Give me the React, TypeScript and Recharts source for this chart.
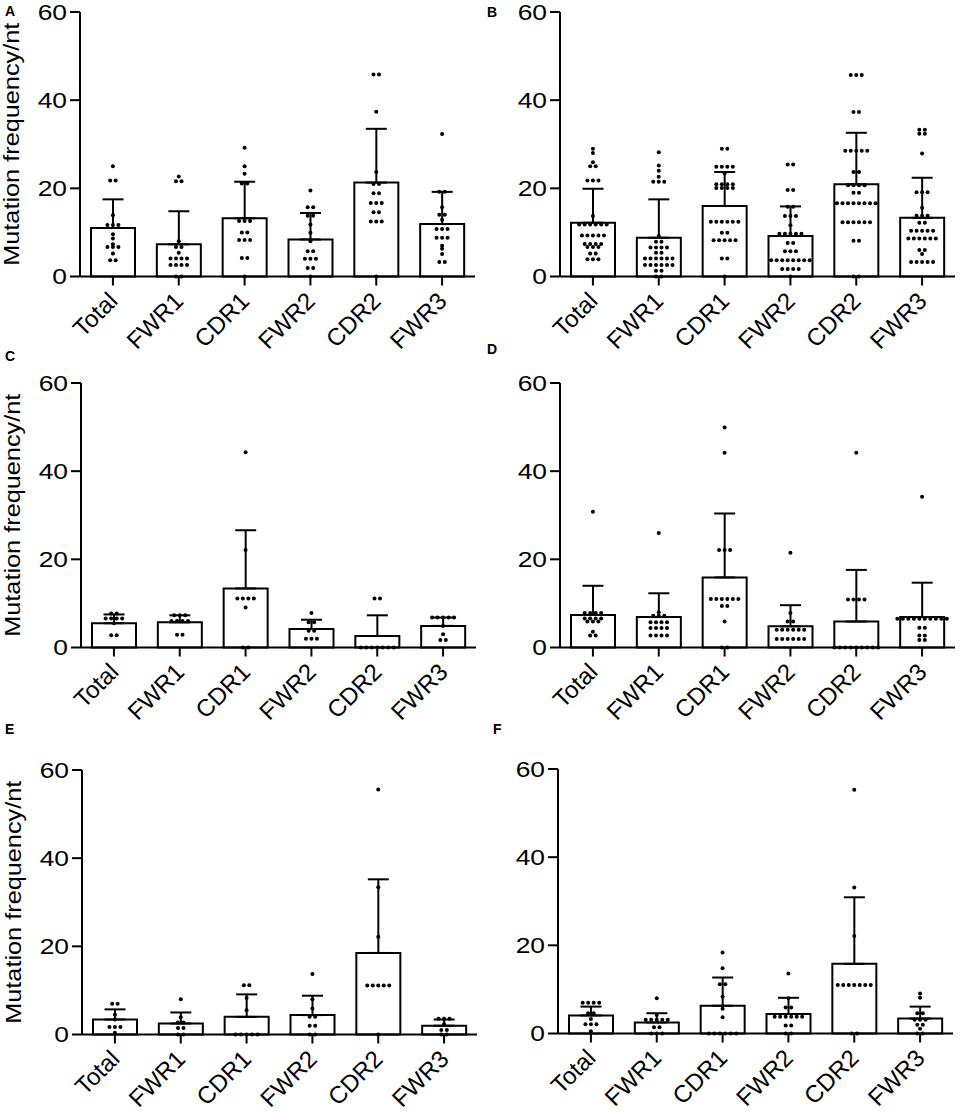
import React from 'react';
import { Bar, ComposedChart, ErrorBar, Scatter, XAxis, YAxis } from 'recharts';

const categories = ['Total', 'FWR1', 'CDR1', 'FWR2', 'CDR2', 'FWR3'];
const yTicks = [0, 20, 40, 60];
const yLabel = 'Mutation frequency/nt';

// panel A
const meanA = [11.0, 7.3, 13.2, 8.4, 21.3, 11.9];
const sdA = [6.5, 7.5, 8.3, 6.0, 12.2, 7.3];
const dotsA = [
  [25.0, 21.8, 21.8, 13.9, 11.7, 11.7, 11.7, 9.6, 8.6, 7.3, 6.7, 6.7, 6.7, 5.2, 3.7, 3.7],
  [22.7, 21.6, 21.6, 8.0, 6.7, 6.7, 5.4, 4.1, 4.1, 4.1, 4.1, 2.6, 2.6, 2.6, 2.6, 0, 0],
  [29.2, 25.0, 23.3, 21.1, 21.1, 12.6, 12.6, 12.6, 10.0, 10.0, 8.3, 8.3, 8.3, 4.2, 4.2, 0],
  [19.5, 15.7, 15.7, 13.8, 13.8, 11.8, 9.9, 8.0, 5.7, 5.7, 4.0, 4.0, 4.0, 1.9, 1.9, 0],
  [45.8, 45.8, 37.4, 23.7, 21.0, 21.0, 18.9, 18.9, 16.7, 16.7, 16.7, 14.6, 14.6, 12.5, 12.5, 12.5, 0],
  [32.3, 19.2, 19.2, 15.7, 14.0, 14.0, 12.9, 10.8, 10.8, 10.8, 8.8, 8.8, 8.8, 7.0, 6.3, 5.1, 3.3, 3.3],
];

// panel B
const meanB = [12.2, 8.8, 16.0, 9.2, 20.9, 13.3];
const sdB = [7.7, 8.7, 7.7, 6.7, 11.7, 9.1];
const dotsB = [
  [29.0, 28.0, 25.9, 25.0, 25.0, 21.8, 21.8, 21.8, 13.7, 11.8, 11.8, 11.8, 11.8, 11.8, 11.8,
    9.3, 9.3, 9.3, 9.3, 9.3, 7.4, 7.4, 7.4, 7.4, 6.7, 6.7, 6.7, 5.2, 5.2, 3.9, 3.9, 3.9],
  [28.2, 25.2, 24.0, 22.6, 21.5, 21.5, 21.5, 9.2, 7.9, 7.9, 6.6, 6.6, 6.6, 6.6, 5.4, 5.4,
    4.1, 4.1, 4.1, 4.1, 4.1, 4.1, 2.6, 2.6, 2.6, 2.6, 2.6, 2.6, 1.3, 1.3, 0, 0],
  [29.0, 29.0, 24.9, 24.9, 24.9, 24.9, 23.4, 20.9, 20.9, 20.9, 20.9, 20.1, 20.1, 20.1, 20.1,
    12.4, 12.4, 12.4, 12.4, 12.4, 12.4, 9.9, 9.9, 8.2, 8.2, 8.2, 8.2, 8.2, 4.1, 4.1, 0],
  [25.4, 25.4, 19.6, 19.6, 15.8, 15.8, 13.7, 13.7, 13.7, 11.6, 9.7, 9.7, 9.7, 9.7, 9.7, 7.6, 7.6,
    5.7, 5.7, 5.7, 3.7, 3.7, 3.7, 3.7, 3.7, 3.7, 3.7, 3.7, 1.7, 1.7, 1.7, 1.7, 0],
  [45.7, 45.7, 45.7, 37.3, 37.3, 28.5, 28.5, 28.5, 28.5, 28.5, 23.7, 23.7, 20.7, 20.7, 20.7, 20.7,
    19.0, 19.0, 16.6, 16.6, 16.6, 16.6, 16.6, 16.6, 16.6, 16.6, 12.3, 12.3, 12.3, 12.3, 12.3, 12.3,
    8.1, 8.1, 0, 0],
  [33.3, 33.3, 32.4, 32.4, 27.9, 19.1, 19.1, 19.1, 15.6, 13.8, 13.8, 13.8, 12.2, 12.2,
    10.4, 10.4, 10.4, 10.4, 10.4, 8.6, 8.6, 8.6, 8.6, 8.6, 8.6, 6.0, 6.0, 5.1, 3.3, 3.3, 3.3, 3.3, 3.3],
];

// panel C
const meanC = [5.5, 5.7, 13.4, 4.2, 2.6, 4.9];
const sdC = [2.0, 1.6, 13.2, 2.1, 4.7, 1.9];
const dotsC = [
  [7.7, 7.7, 6.6, 6.6, 6.6, 6.6, 5.5, 2.8, 2.8],
  [7.3, 7.3, 7.3, 6.0, 6.0, 6.0, 6.0, 2.9, 2.9],
  [44.3, 22.1, 11.1, 11.1, 11.1, 11.1, 9.1, 0, 0],
  [7.8, 5.7, 5.7, 3.8, 3.8, 2.0, 2.0, 2.0],
  [11.1, 11.1, 0, 0, 0, 0, 0, 0, 0],
  [6.8, 6.8, 6.8, 6.8, 6.8, 4.9, 3.0, 1.7, 1.7],
];

// panel D
const meanD = [7.4, 6.9, 15.9, 4.8, 5.9, 6.9];
const sdD = [6.6, 5.4, 14.5, 4.8, 11.7, 7.8];
const dotsD = [
  [30.8, 7.8, 7.8, 7.8, 7.8, 6.6, 6.6, 6.6, 6.6, 5.9, 5.9, 5.9, 3.6, 2.7, 2.7],
  [26.0, 8.0, 7.2, 7.2, 7.2, 5.7, 5.7, 5.7, 5.7, 4.4, 4.4, 4.4, 4.4, 2.7, 2.7, 2.7, 2.7],
  [49.9, 44.2, 22.1, 22.1, 22.1, 11.0, 11.0, 11.0, 11.0, 11.0, 11.0, 9.4, 9.4, 5.9, 0, 0],
  [21.5, 7.8, 5.9, 5.9, 4.0, 4.0, 4.0, 4.0, 4.0, 4.0, 1.9, 1.9, 1.9, 1.9, 1.9, 1.9],
  [44.2, 10.9, 10.9, 10.9, 10.9, 0, 0, 0, 0, 0, 0, 0, 0, 0],
  [34.2, 6.5, 6.5, 6.5, 6.5, 6.5, 6.5, 6.5, 6.5, 6.5, 6.5, 4.5, 4.5, 2.7, 2.7, 1.7, 1.7],
];

// panel E
const meanE = [3.4, 2.5, 4.0, 4.4, 18.5, 2.0];
const sdE = [2.3, 2.5, 5.1, 4.4, 16.7, 1.4];
const dotsE = [
  [7.0, 7.0, 4.5, 3.4, 1.7, 1.7, 1.7, 0.4],
  [8.0, 3.9, 2.7, 2.7, 1.5, 1.5, 0, 0],
  [11.2, 11.2, 8.3, 5.5, 0, 0, 0, 0, 0],
  [13.7, 8.0, 5.9, 4.0, 4.0, 2.0, 2.0, 0, 0],
  [55.6, 33.4, 22.2, 11.1, 11.1, 11.1, 11.1, 11.1, 0],
  [3.6, 3.6, 3.6, 2.3, 1.0, 1.0, 0, 0],
];

// panel F
const meanF = [4.1, 2.5, 6.3, 4.4, 15.8, 3.4];
const sdF = [2.0, 2.1, 6.4, 3.7, 15.1, 2.7];
const dotsF = [
  [7.0, 7.0, 7.0, 7.0, 4.6, 4.6, 3.3, 2.1, 2.1, 2.1, 0.5],
  [8.0, 4.2, 3.1, 3.1, 3.1, 3.1, 3.1, 1.4, 1.4, 0, 0, 0],
  [18.4, 14.8, 11.2, 11.2, 8.4, 5.6, 3.7, 0, 0, 0, 0, 0, 0],
  [13.6, 8.0, 5.9, 5.9, 3.8, 3.8, 3.8, 3.8, 3.8, 3.8, 1.8, 1.8, 0, 0],
  [55.3, 33.1, 22.1, 11.0, 11.0, 11.0, 11.0, 11.0, 11.0, 11.0, 0, 0],
  [9.1, 8.1, 4.6, 4.6, 3.1, 3.1, 3.1, 2.0, 2.0, 1.1, 0, 0],
];

const FONT = '"Liberation Sans", Arial, Helvetica, sans-serif';
const DOT_STEP = 5.5;

const buildBars = (mean: number[], sd: number[]) =>
  categories.map((name, i) => ({ name, mean: mean[i], err: [0, sd[i]] }));

// spread equal values side by side, like a column scatter
const buildDots = (dots: number[][]) =>
  dots.flatMap((vals, i) => {
    const counts: Record<string, number> = {};
    const seen: Record<string, number> = {};
    vals.forEach((v) => (counts[v] = (counts[v] || 0) + 1));
    return vals.map((v) => {
      const k = seen[v] || 0;
      seen[v] = k + 1;
      return { name: categories[i], v, slot: k - (counts[v] - 1) / 2 };
    });
  });

const CatTick = ({ x, y, payload }: any) => (
  <text
    transform={`translate(${x + 6},${y + 15}) rotate(-45)`}
    textAnchor="end"
    fontSize={24}
    fontFamily={FONT}
    fill="#000"
  >
    {payload.value}
  </text>
);

const NumTick = ({ x, y, payload }: any) => (
  <text
    transform={`translate(${x},${y}) scale(1.2,1)`}
    textAnchor="end"
    dy="0.36em"
    fontSize={22}
    fontFamily={FONT}
    fill="#000"
  >
    {payload.value}
  </text>
);

const YTitle = ({ viewBox }: any) => {
  const cy = viewBox.y + viewBox.height / 2;
  return (
    <text
      transform={`translate(18.5,${cy}) rotate(-90) scale(1.15,1)`}
      textAnchor="middle"
      fontSize={22}
      fontFamily={FONT}
      fill="#000"
    >
      {yLabel}
    </text>
  );
};

const DotShape = (p: any) => (
  <circle cx={p.cx + p.payload.slot * DOT_STEP} cy={p.cy} r={2} fill="#000" />
);

const Panel = ({ mean, sd, dots, showLabel }: any) => (
  <ComposedChart
    width={480}
    height={370}
    data={buildBars(mean, sd)}
    margin={{ top: 12, right: 5, bottom: 63.5, left: 0 }}
  >
    <XAxis
      dataKey="name"
      type="category"
      allowDuplicatedCategory={false}
      interval={0}
      height={30}
      tick={CatTick}
      tickSize={9}
      tickMargin={2}
      axisLine={{ stroke: '#000', strokeWidth: 2 }}
      tickLine={{ stroke: '#000', strokeWidth: 2 }}
    />
    <YAxis
      type="number"
      domain={[0, 60]}
      ticks={yTicks}
      width={80}
      tick={NumTick}
      tickSize={10}
      tickMargin={3}
      axisLine={{ stroke: '#000', strokeWidth: 2 }}
      tickLine={{ stroke: '#000', strokeWidth: 2 }}
      label={showLabel ? { content: YTitle } : undefined}
    />
    <Bar dataKey="mean" barSize={44} fill="#fff" stroke="#000" strokeWidth={2} isAnimationActive={false}>
      <ErrorBar dataKey="err" direction="y" width={10.5} stroke="#000" strokeWidth={2} />
    </Bar>
    <Scatter data={buildDots(dots)} dataKey="v" shape={DotShape} isAnimationActive={false} />
  </ComposedChart>
);

const panels = [
  { id: 'A', left: 0, top: 0, mean: meanA, sd: sdA, dots: dotsA, showLabel: true, lx: 5, ly: 4 },
  { id: 'B', left: 480, top: 0, mean: meanB, sd: sdB, dots: dotsB, showLabel: false, lx: 487, ly: 5 },
  { id: 'C', left: 1, top: 371, mean: meanC, sd: sdC, dots: dotsC, showLabel: true, lx: 5, ly: 349 },
  { id: 'D', left: 480, top: 371, mean: meanD, sd: sdD, dots: dotsD, showLabel: false, lx: 487, ly: 342 },
  { id: 'E', left: 2, top: 758, mean: meanE, sd: sdE, dots: dotsE, showLabel: true, lx: 5, ly: 722 },
  { id: 'F', left: 478, top: 757, mean: meanF, sd: sdF, dots: dotsF, showLabel: false, lx: 493, ly: 722 },
];

export default function App() {
  return (
    <div
      style={{
        position: 'absolute',
        left: 0,
        top: 0,
        width: 960,
        height: 1112,
        overflow: 'hidden',
        background: '#fff',
        fontFamily: FONT,
      }}
    >
      {panels.map((p) => (
        <div key={p.id} style={{ position: 'absolute', left: p.left, top: p.top }}>
          <Panel mean={p.mean} sd={p.sd} dots={p.dots} showLabel={p.showLabel} />
        </div>
      ))}
      {panels.map((p) => (
        <div
          key={`l-${p.id}`}
          style={{
            position: 'absolute',
            left: p.lx,
            top: p.ly,
            fontSize: 14,
            lineHeight: '14px',
            fontWeight: 'bold',
            color: '#000',
          }}
        >
          {p.id}
        </div>
      ))}
    </div>
  );
}
